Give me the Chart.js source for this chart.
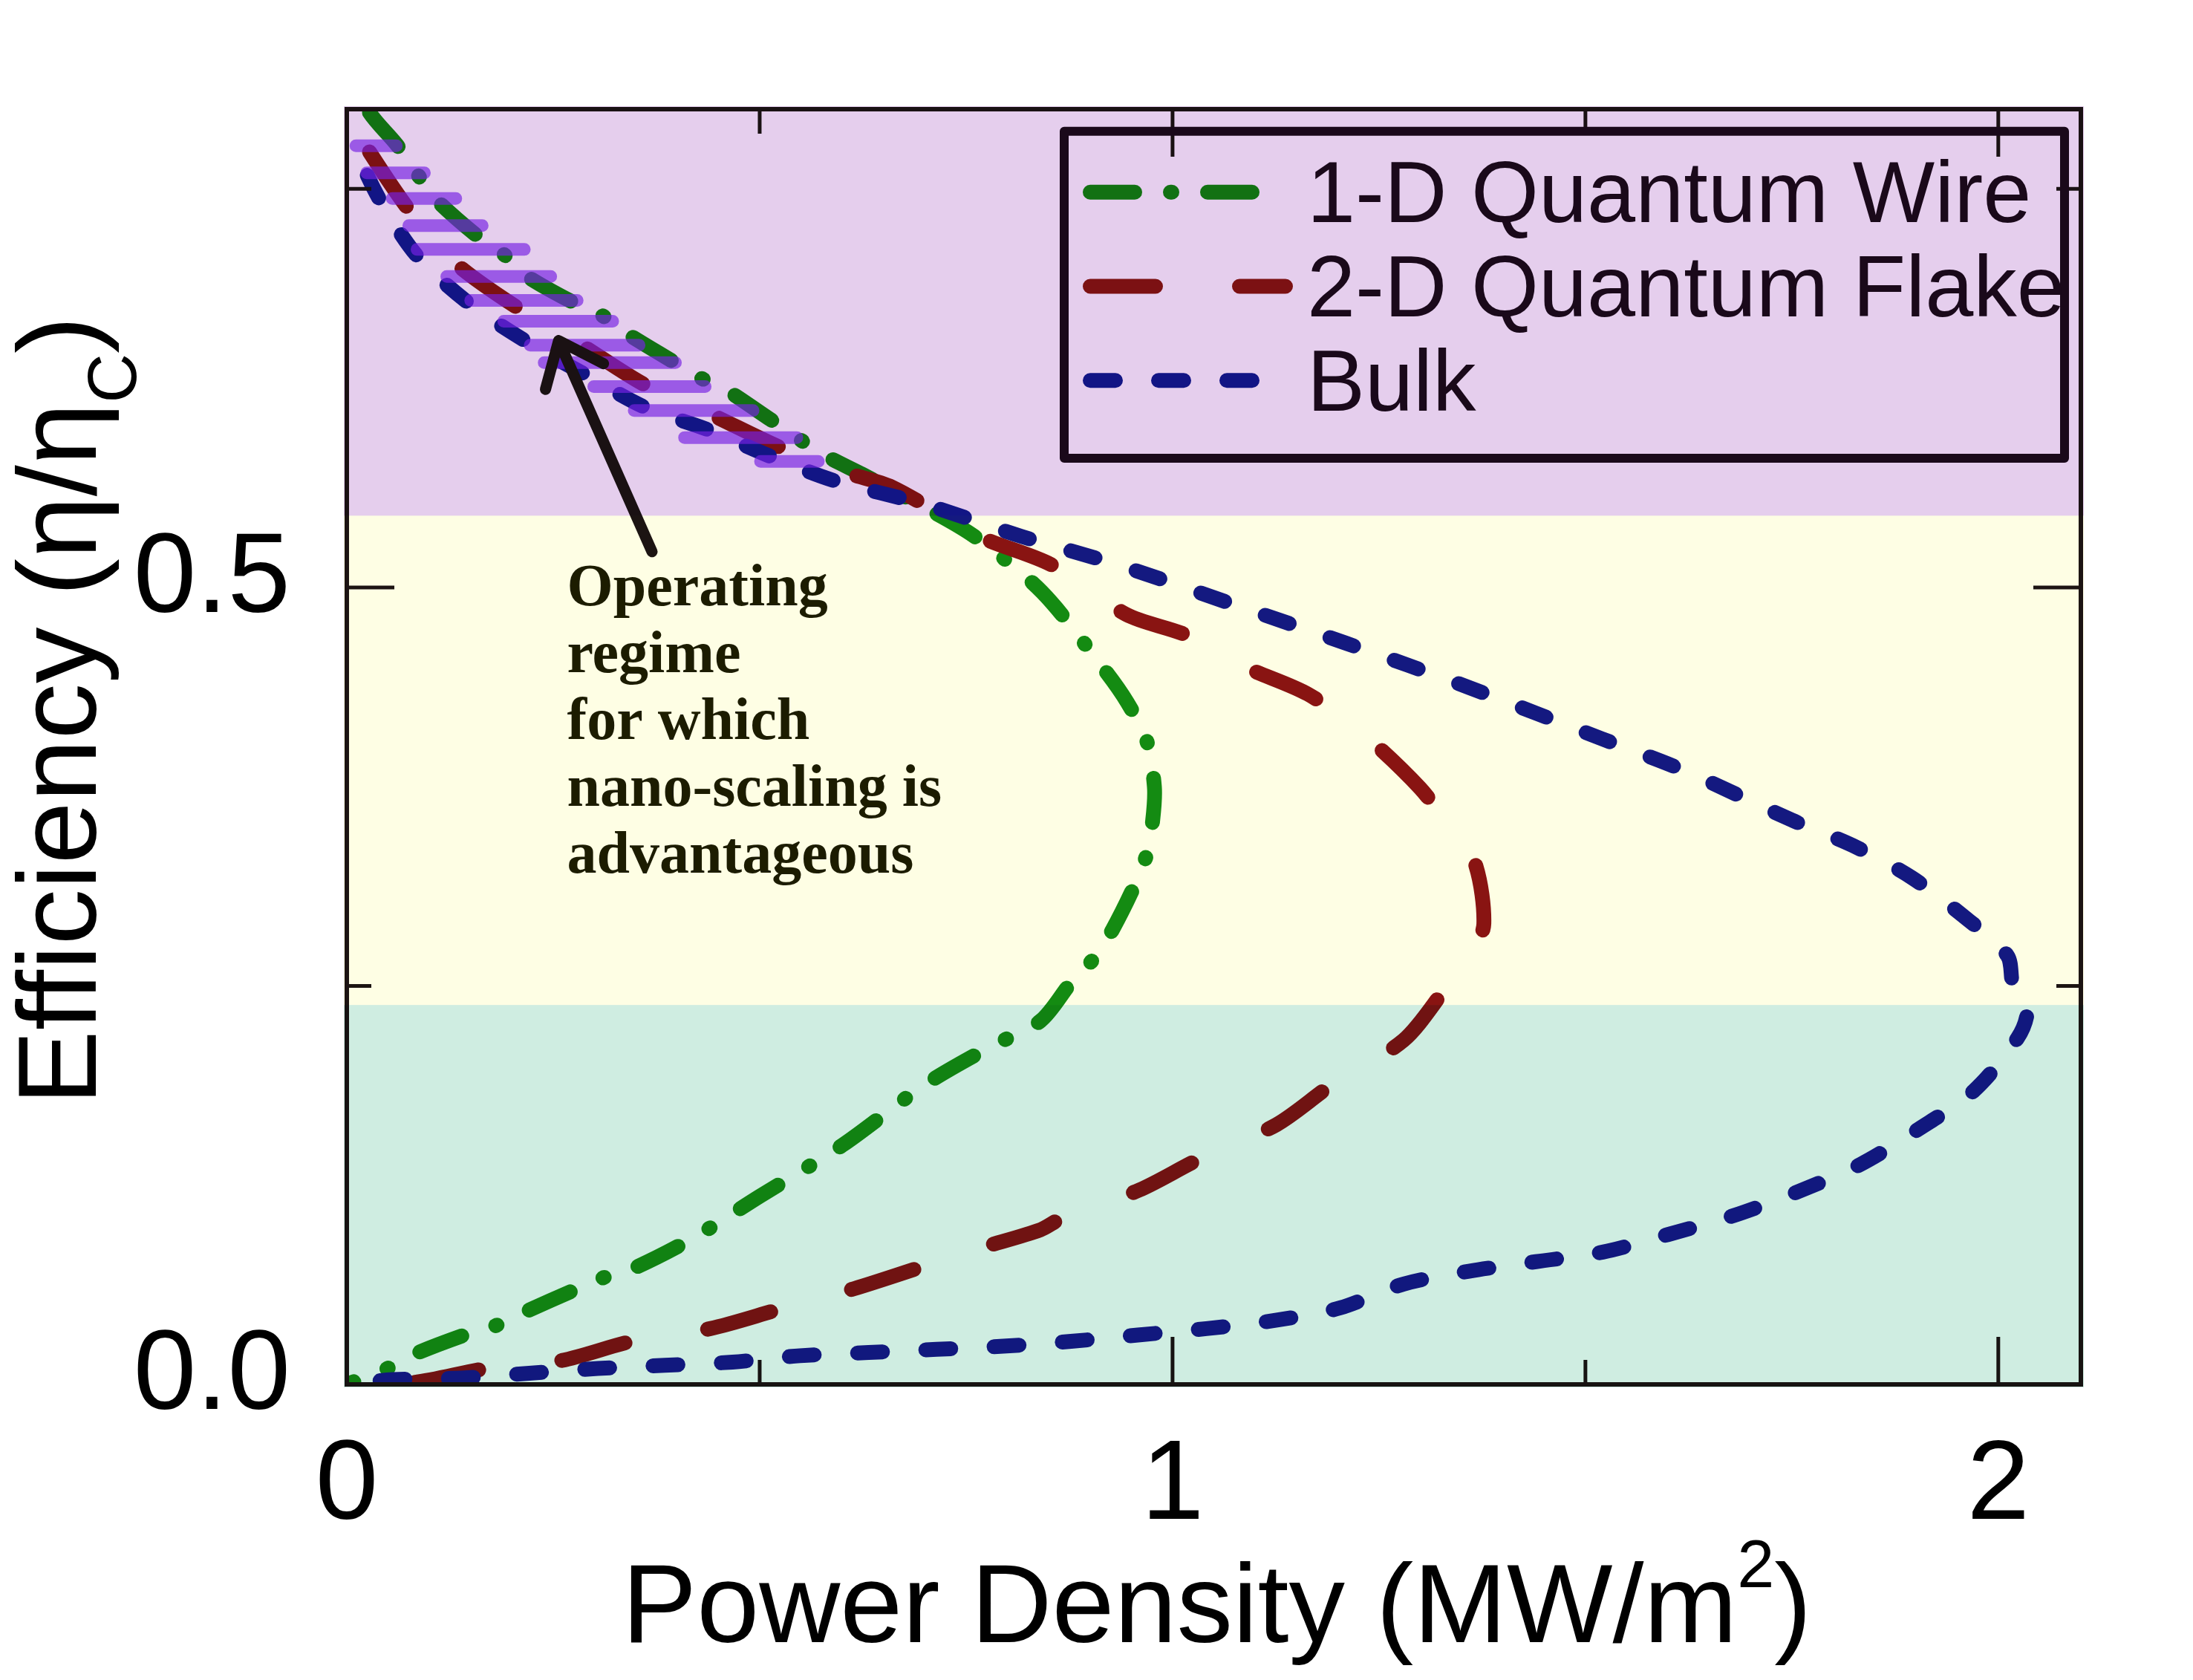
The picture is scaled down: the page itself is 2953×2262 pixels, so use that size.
<!DOCTYPE html>
<html>
<head>
<meta charset="utf-8">
<script src="https://cdn.jsdelivr.net/npm/chart.js@4.4.1/dist/chart.umd.min.js"></script>
<style>
  html, body { margin: 0; padding: 0; background: #fff; }
  canvas { display: block; }
</style>
</head>
<body>
<canvas id="chart" width="2953" height="2262"></canvas>
<script>
// power density (MW/m^2) against efficiency (eta / eta_C)
const wireX = [0, 0.010, 0.049, 0.082, 0.148, 0.181, 0.214, 0.279, 0.311, 0.348, 0.42, 0.50, 0.60, 0.70, 0.78, 0.840, 0.877, 0.906, 0.927, 0.954, 0.969, 0.976, 0.978, 0.968, 0.945, 0.918, 0.842, 0.76, 0.69, 0.624, 0.575, 0.514, 0.456, 0.426, 0.394, 0.334, 0.305, 0.277, 0.213, 0.186, 0.159, 0.105, 0.082, 0.060, 0.025, 0.005];
const wireY = [0, 0.002, 0.010, 0.019, 0.032, 0.037, 0.045, 0.060, 0.067, 0.073, 0.092, 0.118, 0.150, 0.188, 0.212, 0.228, 0.252, 0.268, 0.285, 0.313, 0.333, 0.354, 0.375, 0.405, 0.428, 0.448, 0.497, 0.532, 0.553, 0.571, 0.584, 0.605, 0.625, 0.632, 0.642, 0.661, 0.672, 0.678, 0.697, 0.711, 0.720, 0.745, 0.762, 0.778, 0.800, 0.830];

const flakeX = [0, 0.079, 0.17, 0.26, 0.345, 0.44, 0.523, 0.614, 0.698, 0.77, 0.84, 0.865, 0.96, 1.031, 1.126, 1.193, 1.28, 1.33, 1.362, 1.377, 1.365, 1.332, 1.300, 1.231, 1.164, 1.088, 1.017, 0.944, 0.854, 0.766, 0.66, 0.604, 0.524, 0.439, 0.361, 0.278, 0.202, 0.128, 0.075, 0.024, 0.003];
const flakeY = [0, 0.001, 0.010, 0.015, 0.027, 0.035, 0.047, 0.060, 0.074, 0.086, 0.097, 0.104, 0.122, 0.141, 0.163, 0.188, 0.216, 0.248, 0.270, 0.289, 0.329, 0.352, 0.374, 0.408, 0.433, 0.450, 0.470, 0.483, 0.514, 0.532, 0.563, 0.572, 0.588, 0.609, 0.627, 0.654, 0.677, 0.705, 0.737, 0.776, 0.795];

const bulkX = [0, 0.056, 0.139, 0.221, 0.304, 0.385, 0.467, 0.549, 0.632, 0.714, 0.795, 0.877, 0.958, 1.041, 1.122, 1.203, 1.28, 1.359, 1.440, 1.521, 1.600, 1.680, 1.758, 1.833, 1.903, 1.970, 2.023, 2.035, 2.018, 2.011, 1.962, 1.895, 1.824, 1.750, 1.62, 1.52, 1.36, 1.21, 1.07, 0.935, 0.817, 0.70, 0.59, 0.514, 0.437, 0.361, 0.287, 0.215, 0.146, 0.085, 0.039, 0.010];
const bulkY = [0, 0.003, 0.004, 0.007, 0.010, 0.012, 0.014, 0.018, 0.020, 0.022, 0.024, 0.027, 0.031, 0.035, 0.040, 0.048, 0.063, 0.071, 0.077, 0.083, 0.094, 0.106, 0.121, 0.138, 0.160, 0.184, 0.217, 0.235, 0.250, 0.269, 0.292, 0.318, 0.338, 0.354, 0.385, 0.405, 0.437, 0.465, 0.490, 0.514, 0.532, 0.552, 0.567, 0.582, 0.599, 0.613, 0.634, 0.655, 0.679, 0.708, 0.744, 0.775];

// hatched "operating regime" strokes: one horizontal bar per level
const hatchY    = [0.777, 0.760, 0.744, 0.727, 0.712, 0.695, 0.680, 0.667, 0.652, 0.641, 0.626, 0.611, 0.594, 0.579];
const hatchFrom = [0.011, 0.024, 0.055, 0.075, 0.085, 0.121, 0.150, 0.190, 0.222, 0.239, 0.299, 0.348, 0.409, 0.501];
const hatchTo   = [0.060, 0.094, 0.132, 0.164, 0.215, 0.247, 0.279, 0.322, 0.354, 0.398, 0.434, 0.492, 0.545, 0.571];

// background bands (efficiency boundaries)
const bandEdges = [0, 0.238, 0.545, 0.8];

const xMajor = [0, 1, 2];
const xMinor = [0.5, 1.5];
const yMajor = [0, 0.5];
const yMinor = [0.25, 0.75];

const seriesNames = ['1-D Quantum Wire', '2-D Quantum Flake', 'Bulk'];
const noteLines = ['Operating', 'regime', 'for which', 'nano-scaling is', 'advantageous'];
const noteAnchor = { x: 0.2667, y: 0.4889 };
const arrowFrom = { x: 0.3696, y: 0.5224 };
const arrowTo = { x: 0.2565, y: 0.6548 };

const bandColors = ['#cfede1', '#fefee4', '#e5ceed'];
const sans = '"Liberation Sans", Arial, sans-serif';
const serif = '"Liberation Serif", "Times New Roman", serif';

const toPoints = (xs, ys) => xs.map((x, i) => ({ x: x, y: ys[i] }));

const hatchPoints = [];
hatchY.forEach((y, i) => {
    hatchPoints.push({ x: hatchFrom[i], y: y });
    hatchPoints.push({ x: hatchTo[i], y: y });
    hatchPoints.push({ x: null, y: null });
});

const lineSet = (label, xs, ys, color, dash, offset) => ({
    label: label,
    data: toPoints(xs, ys),
    showLine: true,
    borderColor: color,
    borderWidth: 20,
    borderDash: dash,
    borderDashOffset: offset,
    borderCapStyle: 'round',
    borderJoinStyle: 'round',
    pointRadius: 0,
    tension: 0.3,
    clip: 0,
});

const datasets = [
    {
        label: 'hatch',
        data: hatchPoints,
        showLine: true,
        spanGaps: false,
        borderColor: 'rgba(133, 40, 245, 0.67)',
        borderWidth: 17,
        borderCapStyle: 'round',
        pointRadius: 0,
        tension: 0,
        clip: 0,
    },
    lineSet(seriesNames[2], bulkX, bulkY, '#14198f', [34, 58], 47),
    lineSet(seriesNames[1], flakeX, flakeY, '#8a1414', [88, 113], 110),
    lineSet(seriesNames[0], wireX, wireY, '#148c14', [60, 48, 2, 48], 50),
];

const decorPlugin = {
    id: 'decor',
    beforeDraw(chart) {
        const ctx = chart.ctx;
        ctx.save();
        ctx.fillStyle = '#ffffff';
        ctx.fillRect(0, 0, chart.width, chart.height);
        ctx.restore();
    },
    afterDraw(chart) {
        const ctx = chart.ctx;
        const ca = chart.chartArea;
        const xs = chart.scales.x;
        const ys = chart.scales.y;
        const ink = '#1c1414';

        ctx.save();

        // frame
        ctx.strokeStyle = ink;
        ctx.lineWidth = 6;
        ctx.strokeRect(ca.left, ca.top, ca.right - ca.left, ca.bottom - ca.top);

        // inward ticks on all four sides
        ctx.lineWidth = 5;
        const xTick = (v, len) => {
            const px = xs.getPixelForValue(v);
            ctx.beginPath();
            ctx.moveTo(px, ca.bottom);
            ctx.lineTo(px, ca.bottom - len);
            ctx.moveTo(px, ca.top);
            ctx.lineTo(px, ca.top + len);
            ctx.stroke();
        };
        const yTick = (v, len) => {
            const py = ys.getPixelForValue(v);
            ctx.beginPath();
            ctx.moveTo(ca.left, py);
            ctx.lineTo(ca.left + len, py);
            ctx.moveTo(ca.right, py);
            ctx.lineTo(ca.right - len, py);
            ctx.stroke();
        };
        xMajor.forEach((v) => xTick(v, 64));
        xMinor.forEach((v) => xTick(v, 33));
        yMajor.forEach((v) => yTick(v, 64));
        yMinor.forEach((v) => yTick(v, 33));

        // arrow pointing at the hatched region
        const ax0 = xs.getPixelForValue(arrowFrom.x);
        const ay0 = ys.getPixelForValue(arrowFrom.y);
        const ax1 = xs.getPixelForValue(arrowTo.x);
        const ay1 = ys.getPixelForValue(arrowTo.y);
        const ang = Math.atan2(ay0 - ay1, ax0 - ax1);
        ctx.strokeStyle = ink;
        ctx.lineWidth = 15;
        ctx.lineCap = 'round';
        ctx.lineJoin = 'round';
        ctx.beginPath();
        ctx.moveTo(ax0, ay0);
        ctx.lineTo(ax1, ay1);
        ctx.moveTo(ax1 + 68 * Math.cos(ang + 0.68), ay1 + 68 * Math.sin(ang + 0.68));
        ctx.lineTo(ax1, ay1);
        ctx.lineTo(ax1 + 68 * Math.cos(ang - 0.68), ay1 + 68 * Math.sin(ang - 0.68));
        ctx.stroke();

        // annotation text
        ctx.fillStyle = '#1c1c00';
        ctx.font = 'bold 80px ' + serif;
        ctx.textAlign = 'left';
        ctx.textBaseline = 'alphabetic';
        const nx = xs.getPixelForValue(noteAnchor.x);
        const ny = ys.getPixelForValue(noteAnchor.y);
        noteLines.forEach((t, i) => ctx.fillText(t, nx, ny + i * 90));

        // legend
        ctx.lineCap = 'butt';
        ctx.lineWidth = 12;
        ctx.strokeStyle = '#1c0a1c';
        ctx.strokeRect(ca.left + 966, ca.top + 29.7, 1347, 440.3);
        const legendOrder = [3, 2, 1];
        legendOrder.forEach((di, row) => {
            const ds = chart.data.datasets[di];
            const cy = ca.top + 111.7 + row * 126.8;
            ctx.save();
            ctx.strokeStyle = ds.borderColor;
            ctx.lineWidth = ds.borderWidth;
            ctx.lineCap = 'round';
            ctx.setLineDash(ds.borderDash);
            ctx.beginPath();
            ctx.moveTo(ca.left + 1001, cy);
            ctx.lineTo(ca.left + 1264, cy);
            ctx.stroke();
            ctx.restore();
            ctx.fillStyle = '#1c0a1c';
            ctx.font = '117px ' + sans;
            ctx.fillText(ds.label, ca.left + 1293, cy + 40.5);
        });

        // translucent colour bands tint everything inside the frame
        ctx.globalCompositeOperation = 'multiply';
        for (let b = 0; b < 3; b++) {
            const yLow = b === 0 ? ca.bottom + 4 : ys.getPixelForValue(bandEdges[b]);
            const yHigh = b === 2 ? ca.top - 4 : ys.getPixelForValue(bandEdges[b + 1]);
            ctx.fillStyle = bandColors[b];
            ctx.fillRect(ca.left - 4, yHigh, ca.right - ca.left + 8, yLow - yHigh);
        }
        ctx.globalCompositeOperation = 'source-over';

        // axis titles
        ctx.fillStyle = '#000000';
        ctx.textAlign = 'left';
        ctx.textBaseline = 'alphabetic';
        const big = '151px ' + sans;
        const small = '90px ' + sans;

        ctx.font = big;
        const xt1 = 'Power Density (MW/m';
        const w1 = ctx.measureText(xt1).width;
        const w3 = ctx.measureText(')').width;
        ctx.font = small;
        const w2 = ctx.measureText('2').width;
        const xStart = (ca.left + ca.right) / 2 + 4 - (w1 + w2 + w3) / 2;
        const xBase = ca.bottom + 347;
        ctx.font = big;
        ctx.fillText(xt1, xStart, xBase);
        ctx.fillText(')', xStart + w1 + w2, xBase);
        ctx.font = small;
        ctx.fillText('2', xStart + w1, xBase - 74);

        ctx.translate(129, 1488);
        ctx.rotate(-Math.PI / 2);
        const yt1 = 'Efficiency (\u03b7/\u03b7';
        ctx.font = big;
        const v1 = ctx.measureText(yt1).width;
        ctx.fillText(yt1, 0, 0);
        ctx.font = '92px ' + sans;
        const v2 = ctx.measureText('C').width;
        ctx.fillText('C', v1, 54);
        ctx.font = big;
        ctx.fillText(')', v1 + v2, 0);

        ctx.restore();
    },
};

new Chart(document.getElementById('chart'), {
    type: 'scatter',
    data: { datasets: datasets },
    options: {
        responsive: false,
        devicePixelRatio: 1,
        animation: false,
        layout: { padding: { top: 147, right: 151, left: 0, bottom: 0 } },
        plugins: {
            legend: { display: false },
            tooltip: { enabled: false },
        },
        scales: {
            x: {
                type: 'linear',
                min: 0,
                max: 2.1,
                afterFit: (scale) => {
                    scale.height = 398;
                    scale.paddingLeft = 0;
                    scale.paddingRight = 0;
                },
                grid: { display: false, drawTicks: false },
                border: { display: false },
                ticks: {
                    stepSize: 1,
                    includeBounds: false,
                    padding: 48,
                    color: '#000000',
                    font: { family: sans, size: 152 },
                    callback: (v) => String(v),
                },
            },
            y: {
                type: 'linear',
                min: 0,
                max: 0.8,
                afterFit: (scale) => {
                    scale.width = 467;
                    scale.paddingTop = 0;
                    scale.paddingBottom = 0;
                },
                grid: { display: false, drawTicks: false },
                border: { display: false },
                ticks: {
                    stepSize: 0.5,
                    includeBounds: false,
                    padding: 76,
                    labelOffset: -9,
                    color: '#000000',
                    font: { family: sans, size: 152 },
                    callback: (v) => v.toFixed(1),
                },
            },
        },
    },
    plugins: [decorPlugin],
});
</script>
</body>
</html>
